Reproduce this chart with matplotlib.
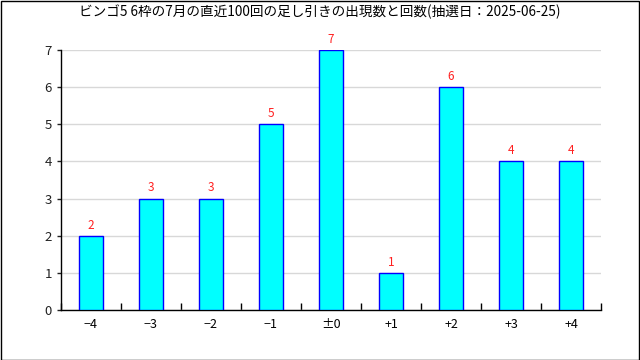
import matplotlib
matplotlib.use("Agg")
import matplotlib.pyplot as plt
from matplotlib.patches import Rectangle
import numpy as np

plt.rcParams['font.family'] = ['Noto Sans CJK JP', 'DejaVu Sans']

categories = ["\u22124", "\u22123", "\u22122", "\u22121", "\u00b10", "+1", "+2", "+3", "+4"]
counts = [2, 3, 3, 5, 7, 1, 6, 4, 4]
title = "ビンゴ5 6枠の7月の直近100回の足し引きの出現数と回数(抽選日：2025-06-25)"

fig = plt.figure(figsize=(6.4, 3.6), dpi=100)
ax = fig.add_axes([61 / 640, 50 / 360, 540 / 640, 260 / 360])

x = np.arange(len(categories))
ax.bar(x, counts, width=0.4, color="#00ffff", edgecolor="#0000ff", linewidth=1, zorder=3)
for xi, c in zip(x, counts):
    ax.annotate(str(c), (xi, c), xytext=(0, 3), textcoords="offset points",
                ha="center", va="bottom", color="#ff2020", fontsize=8.5)

ax.set_xlim(-0.5, len(categories) - 0.5)
ax.set_ylim(0, 7)
ax.set_yticks(range(0, 8))
ax.set_xticks(x)
ax.set_xticklabels(categories)
ax.set_xticks(np.arange(-0.5, len(categories), 1.0), minor=True)
ax.tick_params(axis="x", which="major", length=0, pad=6, labelsize=9)
ax.tick_params(axis="x", which="minor", direction="in", length=5, width=1)
ax.tick_params(axis="y", length=3, width=1, labelsize=9.5, colors="#222222")
ax.grid(axis="y", color="#d8d8d8", linewidth=1, zorder=0)
for s in ("top", "right"):
    ax.spines[s].set_visible(False)
for s in ("left", "bottom"):
    ax.spines[s].set_linewidth(1)
    ax.spines[s].set_color("black")

fig.text(0.5, 1 - 12 / 360, title, ha="center", va="center", fontsize=9.8)
fig.patches.append(Rectangle((0.5 / 640, 0.5 / 360), 638.5 / 640, 358.5 / 360,
                             transform=fig.transFigure, fill=False,
                             edgecolor="black", linewidth=1))

fig.savefig("out.png", dpi=100)
